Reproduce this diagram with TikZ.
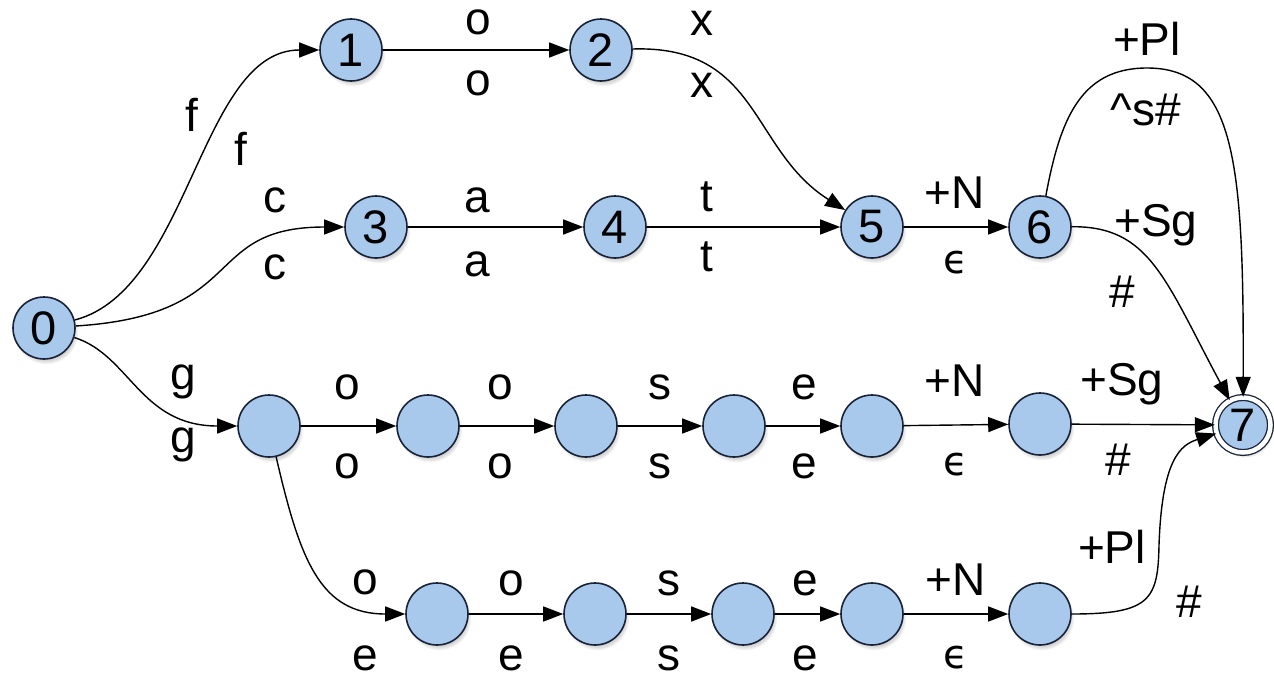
\documentclass[tikz,border=0pt]{standalone}
\usepackage{fontspec}
\setmainfont{Liberation Sans}
\newfontfamily\epsfont{DejaVu Sans}
\usetikzlibrary{arrows.meta,shadows,fadings}
\definecolor{nodeblue}{RGB}{168,200,236}
\definecolor{rim}{RGB}{25,35,55}
\begin{document}
\begin{tikzpicture}[x=1pt,y=-1pt,
  state/.style={circle, draw=rim, line width=1.6pt, fill=nodeblue, minimum size=62pt, inner sep=0pt,
    font=\fontsize{47}{47}\selectfont,
    circular drop shadow={shadow xshift=2pt, shadow yshift=-4pt, shadow scale=1.04, opacity=0.35}},
  final/.style={state, line width=1.3pt, minimum size=55pt, double=white, double distance=4.5pt},
  lab/.style={inner sep=0pt, font=\fontsize{46}{46}\selectfont},
  eps/.style={inner sep=0pt, font=\epsfont\fontsize{40}{40}\selectfont},
  edge/.style={-{Triangle[length=20pt,width=15pt]}, line width=1.4pt, black}]
\useasboundingbox (0,0) rectangle (1274,680);

% states
\node[state] (n0) at (44,328) {0};
\node[state] (n1) at (351,50) {1};
\node[state] (n2) at (601,50) {2};
\node[state] (n3) at (376,227) {3};
\node[state] (n4) at (615,227) {4};
\node[state] (n5) at (872,227) {5};
\node[state] (n6) at (1040,227) {6};
\node[final] (n7) at (1243,425) {7};
\node[state] (a1) at (269,426) {};
\node[state] (a2) at (428,426) {};
\node[state] (a3) at (586,426) {};
\node[state] (a4) at (734,426) {};
\node[state] (a5) at (872,426) {};
\node[state] (a6) at (1040,424) {};
\node[state] (b1) at (437,614) {};
\node[state] (b2) at (595,614) {};
\node[state] (b3) at (743,614) {};
\node[state] (b4) at (872,614) {};
\node[state] (b5) at (1040,614) {};

\coordinate (looptop) at (1147,68);
\coordinate (bend) at (1159,545);

% edges
\draw[edge] (n0) .. controls (190,290) and (200,50) .. (n1);
\draw[edge] (n0) .. controls (250,315) and (200,227) .. (n3);
\draw[edge] (n0) .. controls (130,355) and (140,426) .. (a1);
\draw[edge] (n1) -- (n2);
\draw[edge] (n2) .. controls (760,45) and (750,150) .. (n5);
\draw[edge] (n3) -- (n4);
\draw[edge] (n4) -- (n5);
\draw[edge] (n5) -- (n6);
\draw[edge] (n6) .. controls (1150,226) and (1165,280) .. (n7);
\draw[edge] (n6) .. controls (1060,120) and (1080,68) .. (looptop)
                 .. controls (1235,68) and (1244,160) .. (n7);
\draw[edge] (a1) -- (a2);
\draw[edge] (a2) -- (a3);
\draw[edge] (a3) -- (a4);
\draw[edge] (a4) -- (a5);
\draw[edge] (a5) -- (a6);
\draw[edge] (a6) -- (n7);
\draw[edge] (a1) .. controls (300,560) and (320,614) .. (b1);
\draw[edge] (b1) -- (b2);
\draw[edge] (b2) -- (b3);
\draw[edge] (b3) -- (b4);
\draw[edge] (b4) -- (b5);
\draw[edge] (b5) .. controls (1150,614) and (1158,600) .. (bend)
                 .. controls (1162,460) and (1180,445) .. (n7);

% labels row 1
\node[lab] (l1) at (192,115) {f};
\node[lab] (l2) at (241,149) {f};
\node[lab] (l3) at (478,22) {o};
\node[lab] (l4) at (478,83) {o};
\node[lab] (l5) at (702,23) {x};
\node[lab] (l6) at (702,85) {x};
% labels row 2
\node[lab] (l7) at (275,200) {c};
\node[lab] (l8) at (275,267) {c};
\node[lab] (l9) at (477,200) {a};
\node[lab] (l10) at (477,264) {a};
\node[lab] (l11) at (707,197) {t};
\node[lab] (l12) at (707,257) {t};
\node[lab] (l13) at (955,193) {+N};
\node[eps] (l14) at (956,263) {ϵ};
\node[lab] (l15) at (1156,225) {+Sg};
\node[lab] (l16) at (1122,292) {\#};
\node[lab] (l17) at (1147,39) {+Pl};
\node[lab] (l18) at (1146,110) {\textasciicircum s\#};
% labels row 3
\node[lab] (l19) at (183,382) {g};
\node[lab] (l20) at (183,445) {g};
\node[lab] (l21) at (347,387) {o};
\node[lab] (l22) at (347,466) {o};
\node[lab] (l23) at (500,387) {o};
\node[lab] (l24) at (500,466) {o};
\node[lab] (l25) at (660,387) {s};
\node[lab] (l26) at (660,466) {s};
\node[lab] (l27) at (804,387) {e};
\node[lab] (l28) at (804,466) {e};
\node[lab] (l29) at (955,381) {+N};
\node[eps] (l30) at (956,465) {ϵ};
\node[lab] (l31) at (1122,384) {+Sg};
\node[lab] (l32) at (1118,460) {\#};
% labels row 4
\node[lab] (l33) at (365,582) {o};
\node[lab] (l34) at (365,658) {e};
\node[lab] (l35) at (511,583) {o};
\node[lab] (l36) at (511,658) {e};
\node[lab] (l37) at (669,583) {s};
\node[lab] (l38) at (669,658) {s};
\node[lab] (l39) at (805,583) {e};
\node[lab] (l40) at (805,658) {e};
\node[lab] (l41) at (956,580) {+N};
\node[eps] (l42) at (956,658) {ϵ};
\node[lab] (l43) at (1112,547) {+Pl};
\node[lab] (l44) at (1189,602) {\#};
\end{tikzpicture}
\end{document}
